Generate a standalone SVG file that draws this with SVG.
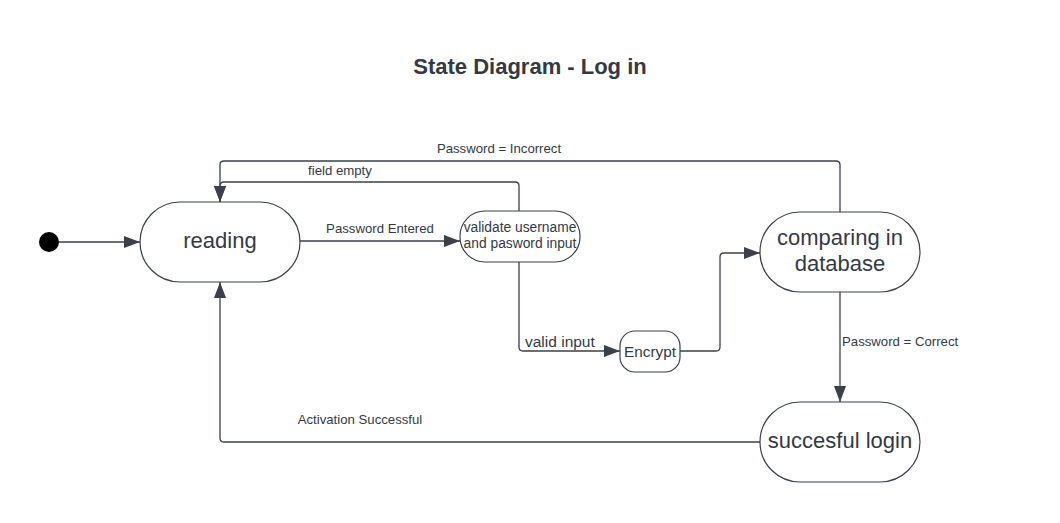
<svg xmlns="http://www.w3.org/2000/svg" width="1060" height="523" viewBox="0 0 1060 523">
<style>
.node{fill:#fff;stroke:#3a414a;stroke-width:1.2}
.lbl{font-family:"Liberation Sans",Arial,sans-serif;fill:#333a45}
.edge{fill:none;stroke:#3a414a;stroke-width:1.3}
.big{font-size:22px;text-anchor:middle}
.small{font-size:13.2px}
</style>
<defs>
<marker id="arr" markerWidth="18" markerHeight="12" refX="16" refY="6" orient="auto" markerUnits="userSpaceOnUse">
<path d="M0,0 L16,6 L0,12 Z" fill="#3a414a"/>
</marker>
</defs>
<rect width="1060" height="523" fill="#fff"/>
<text class="lbl" x="530" y="74" font-size="22" font-weight="bold" text-anchor="middle">State Diagram - Log in</text>

<g id="connectors">
<path class="edge" d="M59,242 L140,242" marker-end="url(#arr)"/>
<path class="edge" d="M300,241 L460,241" marker-end="url(#arr)"/>
<path class="edge" d="M519,211 L519,186 Q519,182 515,182 L224,182 Q220,182 220,186 L220,202" marker-end="url(#arr)"/>
<path class="edge" d="M840,212 L840,165 Q840,161 836,161 L224,161 Q220,161 220,165 L220,202" marker-end="url(#arr)"/>
<path class="edge" d="M519,262 L519,347 Q519,351 523,351 L620,351" marker-end="url(#arr)"/>
<path class="edge" d="M680,351 L716,351 Q720,351 720,347 L720,257 Q720,253 724,253 L760,253" marker-end="url(#arr)"/>
<path class="edge" d="M840,292 L840,402" marker-end="url(#arr)"/>
<path class="edge" d="M760,442 L224,442 Q220,442 220,438 L220,282" marker-end="url(#arr)"/>
<text class="lbl small" x="380" y="233" text-anchor="middle">Password Entered</text>
<text class="lbl small" x="340" y="175" text-anchor="middle">field empty</text>
<text class="lbl small" x="499" y="153" text-anchor="middle">Password = Incorrect</text>
<text class="lbl" x="525" y="347" font-size="15.5">valid input</text>
<text class="lbl small" x="842" y="346">Password = Correct</text>
<text class="lbl small" x="360" y="424" text-anchor="middle">Activation Successful</text>
</g>

<circle id="start" cx="49" cy="242" r="10" fill="#000"/>

<g id="reading">
<rect class="node" x="140" y="202" width="160" height="80" rx="40"/>
<text class="lbl big" x="220" y="248">reading</text>
</g>
<g id="validate">
<rect class="node" x="460" y="211" width="120" height="51" rx="25"/>
<text class="lbl" x="520" y="232" font-size="13.8" text-anchor="middle">validate username</text>
<text class="lbl" x="520" y="248" font-size="13.8" text-anchor="middle">and pasword input</text>
</g>
<g id="encrypt">
<rect class="node" x="620" y="331" width="60" height="41" rx="15"/>
<text class="lbl" x="650" y="357" font-size="15.3" text-anchor="middle">Encrypt</text>
</g>
<g id="comparing">
<rect class="node" x="760" y="212" width="160" height="80" rx="40"/>
<text class="lbl big" x="840" y="245">comparing in</text>
<text class="lbl big" x="840" y="271">database</text>
</g>
<g id="success">
<rect class="node" x="760" y="402" width="160" height="80" rx="40"/>
<text class="lbl big" x="840" y="448">succesful login</text>
</g>
</svg>
